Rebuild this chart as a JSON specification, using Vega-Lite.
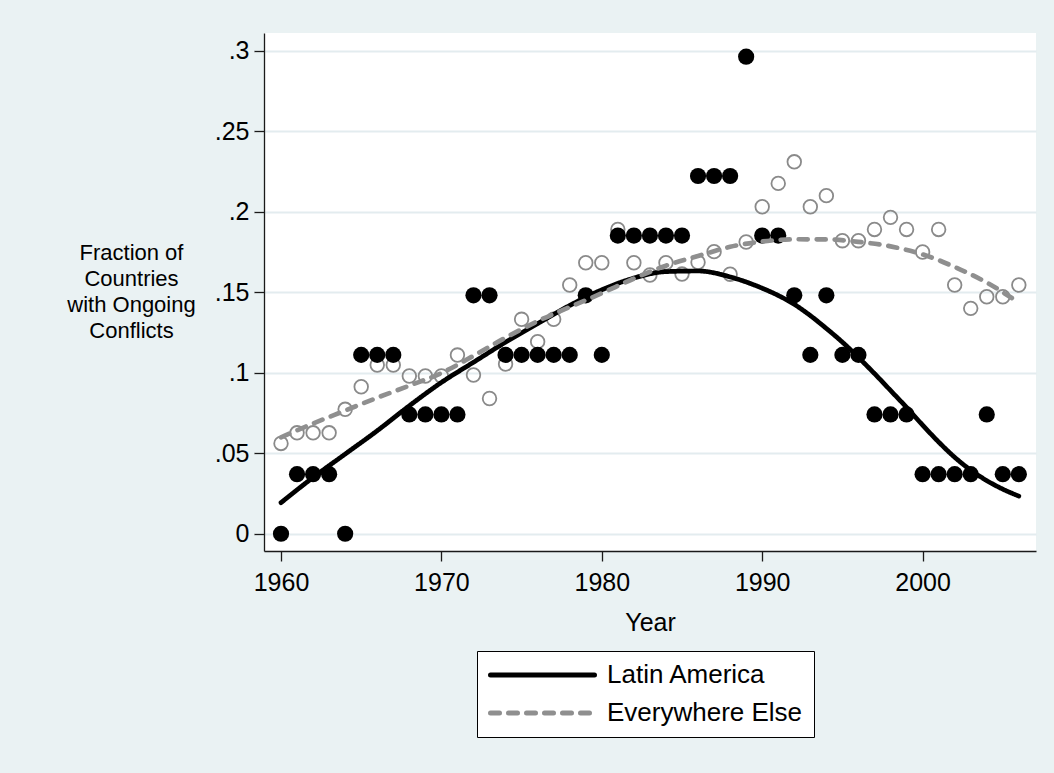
{
  "$schema": "https://vega.github.io/schema/vega-lite/v6.json",
  "width": 772,
  "height": 518,
  "autosize": {"type": "none"},
  "padding": {"left": 264, "top": 33, "right": 18, "bottom": 222},
  "background": "#EAF2F3",
  "config": {
    "view": {"fill": "white", "stroke": null},
    "font": "Liberation Sans",
    "axis": {
      "labelFont": "Liberation Sans",
      "titleFont": "Liberation Sans",
      "labelColor": "black",
      "titleColor": "black",
      "titleFontWeight": "normal",
      "domainColor": "#1a1a1a",
      "domainWidth": 1.3,
      "tickColor": "#1a1a1a",
      "tickWidth": 1.3,
      "tickSize": 10
    }
  },
  "datasets": {
    "points": [
      {"year": 1960, "value": 0, "group": "Latin America"},
      {"year": 1961, "value": 0.037, "group": "Latin America"},
      {"year": 1962, "value": 0.037, "group": "Latin America"},
      {"year": 1963, "value": 0.037, "group": "Latin America"},
      {"year": 1964, "value": 0, "group": "Latin America"},
      {"year": 1965, "value": 0.1111, "group": "Latin America"},
      {"year": 1966, "value": 0.1111, "group": "Latin America"},
      {"year": 1967, "value": 0.1111, "group": "Latin America"},
      {"year": 1968, "value": 0.0741, "group": "Latin America"},
      {"year": 1969, "value": 0.0741, "group": "Latin America"},
      {"year": 1970, "value": 0.0741, "group": "Latin America"},
      {"year": 1971, "value": 0.0741, "group": "Latin America"},
      {"year": 1972, "value": 0.1481, "group": "Latin America"},
      {"year": 1973, "value": 0.1481, "group": "Latin America"},
      {"year": 1974, "value": 0.1111, "group": "Latin America"},
      {"year": 1975, "value": 0.1111, "group": "Latin America"},
      {"year": 1976, "value": 0.1111, "group": "Latin America"},
      {"year": 1977, "value": 0.1111, "group": "Latin America"},
      {"year": 1978, "value": 0.1111, "group": "Latin America"},
      {"year": 1979, "value": 0.1481, "group": "Latin America"},
      {"year": 1980, "value": 0.1111, "group": "Latin America"},
      {"year": 1981, "value": 0.1852, "group": "Latin America"},
      {"year": 1982, "value": 0.1852, "group": "Latin America"},
      {"year": 1983, "value": 0.1852, "group": "Latin America"},
      {"year": 1984, "value": 0.1852, "group": "Latin America"},
      {"year": 1985, "value": 0.1852, "group": "Latin America"},
      {"year": 1986, "value": 0.2222, "group": "Latin America"},
      {"year": 1987, "value": 0.2222, "group": "Latin America"},
      {"year": 1988, "value": 0.2222, "group": "Latin America"},
      {"year": 1989, "value": 0.2963, "group": "Latin America"},
      {"year": 1990, "value": 0.1852, "group": "Latin America"},
      {"year": 1991, "value": 0.1852, "group": "Latin America"},
      {"year": 1992, "value": 0.1481, "group": "Latin America"},
      {"year": 1993, "value": 0.1111, "group": "Latin America"},
      {"year": 1994, "value": 0.1481, "group": "Latin America"},
      {"year": 1995, "value": 0.1111, "group": "Latin America"},
      {"year": 1996, "value": 0.1111, "group": "Latin America"},
      {"year": 1997, "value": 0.0741, "group": "Latin America"},
      {"year": 1998, "value": 0.0741, "group": "Latin America"},
      {"year": 1999, "value": 0.0741, "group": "Latin America"},
      {"year": 2000, "value": 0.037, "group": "Latin America"},
      {"year": 2001, "value": 0.037, "group": "Latin America"},
      {"year": 2002, "value": 0.037, "group": "Latin America"},
      {"year": 2003, "value": 0.037, "group": "Latin America"},
      {"year": 2004, "value": 0.0741, "group": "Latin America"},
      {"year": 2005, "value": 0.037, "group": "Latin America"},
      {"year": 2006, "value": 0.037, "group": "Latin America"},
      {"year": 1960, "value": 0.0561, "group": "Everywhere Else"},
      {"year": 1961, "value": 0.0627, "group": "Everywhere Else"},
      {"year": 1962, "value": 0.0627, "group": "Everywhere Else"},
      {"year": 1963, "value": 0.0627, "group": "Everywhere Else"},
      {"year": 1964, "value": 0.0773, "group": "Everywhere Else"},
      {"year": 1965, "value": 0.0913, "group": "Everywhere Else"},
      {"year": 1966, "value": 0.1048, "group": "Everywhere Else"},
      {"year": 1967, "value": 0.1048, "group": "Everywhere Else"},
      {"year": 1968, "value": 0.098, "group": "Everywhere Else"},
      {"year": 1969, "value": 0.098, "group": "Everywhere Else"},
      {"year": 1970, "value": 0.098, "group": "Everywhere Else"},
      {"year": 1971, "value": 0.111, "group": "Everywhere Else"},
      {"year": 1972, "value": 0.0986, "group": "Everywhere Else"},
      {"year": 1973, "value": 0.084, "group": "Everywhere Else"},
      {"year": 1974, "value": 0.1054, "group": "Everywhere Else"},
      {"year": 1975, "value": 0.1332, "group": "Everywhere Else"},
      {"year": 1976, "value": 0.1193, "group": "Everywhere Else"},
      {"year": 1977, "value": 0.1332, "group": "Everywhere Else"},
      {"year": 1978, "value": 0.1545, "group": "Everywhere Else"},
      {"year": 1979, "value": 0.1683, "group": "Everywhere Else"},
      {"year": 1980, "value": 0.1683, "group": "Everywhere Else"},
      {"year": 1981, "value": 0.189, "group": "Everywhere Else"},
      {"year": 1982, "value": 0.1683, "group": "Everywhere Else"},
      {"year": 1983, "value": 0.1607, "group": "Everywhere Else"},
      {"year": 1984, "value": 0.1683, "group": "Everywhere Else"},
      {"year": 1985, "value": 0.1613, "group": "Everywhere Else"},
      {"year": 1986, "value": 0.1686, "group": "Everywhere Else"},
      {"year": 1987, "value": 0.1752, "group": "Everywhere Else"},
      {"year": 1988, "value": 0.1612, "group": "Everywhere Else"},
      {"year": 1989, "value": 0.1812, "group": "Everywhere Else"},
      {"year": 1990, "value": 0.2031, "group": "Everywhere Else"},
      {"year": 1991, "value": 0.2176, "group": "Everywhere Else"},
      {"year": 1992, "value": 0.231, "group": "Everywhere Else"},
      {"year": 1993, "value": 0.2031, "group": "Everywhere Else"},
      {"year": 1994, "value": 0.21, "group": "Everywhere Else"},
      {"year": 1995, "value": 0.182, "group": "Everywhere Else"},
      {"year": 1996, "value": 0.182, "group": "Everywhere Else"},
      {"year": 1997, "value": 0.189, "group": "Everywhere Else"},
      {"year": 1998, "value": 0.1965, "group": "Everywhere Else"},
      {"year": 1999, "value": 0.189, "group": "Everywhere Else"},
      {"year": 2000, "value": 0.175, "group": "Everywhere Else"},
      {"year": 2001, "value": 0.189, "group": "Everywhere Else"},
      {"year": 2002, "value": 0.1545, "group": "Everywhere Else"},
      {"year": 2003, "value": 0.14, "group": "Everywhere Else"},
      {"year": 2004, "value": 0.1472, "group": "Everywhere Else"},
      {"year": 2005, "value": 0.1472, "group": "Everywhere Else"},
      {"year": 2006, "value": 0.1545, "group": "Everywhere Else"}
    ],
    "fits": [
      {"year": 1960, "value": 0.0193, "group": "Latin America"},
      {"year": 1962, "value": 0.035, "group": "Latin America"},
      {"year": 1964, "value": 0.0495, "group": "Latin America"},
      {"year": 1966, "value": 0.064, "group": "Latin America"},
      {"year": 1968, "value": 0.0795, "group": "Latin America"},
      {"year": 1970, "value": 0.094, "group": "Latin America"},
      {"year": 1972, "value": 0.1065, "group": "Latin America"},
      {"year": 1974, "value": 0.119, "group": "Latin America"},
      {"year": 1976, "value": 0.1305, "group": "Latin America"},
      {"year": 1978, "value": 0.1418, "group": "Latin America"},
      {"year": 1980, "value": 0.1515, "group": "Latin America"},
      {"year": 1982, "value": 0.1588, "group": "Latin America"},
      {"year": 1984, "value": 0.1628, "group": "Latin America"},
      {"year": 1986, "value": 0.1632, "group": "Latin America"},
      {"year": 1988, "value": 0.1595, "group": "Latin America"},
      {"year": 1990, "value": 0.1525, "group": "Latin America"},
      {"year": 1991, "value": 0.148, "group": "Latin America"},
      {"year": 1992, "value": 0.1425, "group": "Latin America"},
      {"year": 1993, "value": 0.1355, "group": "Latin America"},
      {"year": 1994, "value": 0.1275, "group": "Latin America"},
      {"year": 1995, "value": 0.119, "group": "Latin America"},
      {"year": 1996, "value": 0.1095, "group": "Latin America"},
      {"year": 1997, "value": 0.0995, "group": "Latin America"},
      {"year": 1998, "value": 0.089, "group": "Latin America"},
      {"year": 1999, "value": 0.0785, "group": "Latin America"},
      {"year": 2000, "value": 0.0675, "group": "Latin America"},
      {"year": 2001, "value": 0.057, "group": "Latin America"},
      {"year": 2002, "value": 0.0475, "group": "Latin America"},
      {"year": 2003, "value": 0.0395, "group": "Latin America"},
      {"year": 2004, "value": 0.033, "group": "Latin America"},
      {"year": 2005, "value": 0.0277, "group": "Latin America"},
      {"year": 2006, "value": 0.0234, "group": "Latin America"},
      {"year": 1960, "value": 0.0599, "group": "Everywhere Else"},
      {"year": 1962, "value": 0.0685, "group": "Everywhere Else"},
      {"year": 1964, "value": 0.0765, "group": "Everywhere Else"},
      {"year": 1966, "value": 0.0845, "group": "Everywhere Else"},
      {"year": 1968, "value": 0.092, "group": "Everywhere Else"},
      {"year": 1970, "value": 0.0998, "group": "Everywhere Else"},
      {"year": 1972, "value": 0.1105, "group": "Everywhere Else"},
      {"year": 1974, "value": 0.1218, "group": "Everywhere Else"},
      {"year": 1976, "value": 0.132, "group": "Everywhere Else"},
      {"year": 1978, "value": 0.1408, "group": "Everywhere Else"},
      {"year": 1980, "value": 0.1494, "group": "Everywhere Else"},
      {"year": 1982, "value": 0.1585, "group": "Everywhere Else"},
      {"year": 1984, "value": 0.1665, "group": "Everywhere Else"},
      {"year": 1986, "value": 0.1725, "group": "Everywhere Else"},
      {"year": 1988, "value": 0.1782, "group": "Everywhere Else"},
      {"year": 1990, "value": 0.1815, "group": "Everywhere Else"},
      {"year": 1992, "value": 0.1829, "group": "Everywhere Else"},
      {"year": 1994, "value": 0.1828, "group": "Everywhere Else"},
      {"year": 1996, "value": 0.1813, "group": "Everywhere Else"},
      {"year": 1998, "value": 0.1785, "group": "Everywhere Else"},
      {"year": 2000, "value": 0.1735, "group": "Everywhere Else"},
      {"year": 2002, "value": 0.1657, "group": "Everywhere Else"},
      {"year": 2004, "value": 0.156, "group": "Everywhere Else"},
      {"year": 2006, "value": 0.1435, "group": "Everywhere Else"}
    ]
  },
  "encoding": {
    "x": {
      "field": "year",
      "type": "quantitative",
      "scale": {"domain": [1958.94, 2007.07], "nice": false, "zero": false},
      "axis": {
        "values": [1960, 1970, 1980, 1990, 2000],
        "grid": false,
        "format": "d",
        "labelFontSize": 25,
        "labelPadding": 9,
        "title": "Year",
        "titleFontSize": 25,
        "titleBaseline": "alphabetic",
        "titleY": 79
      }
    },
    "y": {
      "field": "value",
      "type": "quantitative",
      "scale": {"domain": [-0.0107, 0.311], "nice": false, "zero": false},
      "axis": {
        "values": [0, 0.05, 0.1, 0.15, 0.2, 0.25, 0.3],
        "grid": true,
        "gridColor": "#E3ECEF",
        "gridWidth": 2,
        "labelExpr": "datum.value == 0 ? '0' : replace(format(datum.value, '.2~f'), '0.', '.')",
        "labelFontSize": 25,
        "labelPadding": 5,
        "title": ["Fraction of", "Countries", "with Ongoing", "Conflicts"],
        "titleFontSize": 22,
        "titleLineHeight": 26.3,
        "titleAngle": 0,
        "titleAlign": "center",
        "titleBaseline": "alphabetic",
        "titleX": -133,
        "titleY": 226
      }
    }
  },
  "layer": [
    {
      "data": {"name": "points"},
      "transform": [{"filter": "datum.group === 'Everywhere Else'"}],
      "mark": {"type": "point", "shape": "circle", "filled": false, "stroke": "#8a8a8a", "strokeWidth": 1.8, "size": 185, "opacity": 1}
    },
    {
      "data": {"name": "points"},
      "transform": [{"filter": "datum.group === 'Latin America'"}],
      "mark": {"type": "circle", "color": "black", "size": 262, "opacity": 1}
    },
    {
      "data": {"name": "fits"},
      "mark": {"type": "line", "strokeWidth": 4.7, "strokeCap": "round", "interpolate": "monotone"},
      "encoding": {
        "color": {
          "field": "group",
          "type": "nominal",
          "scale": {"domain": ["Latin America", "Everywhere Else"], "range": ["black", "#8f8f8f"]},
          "legend": {
            "orient": "none",
            "legendX": 213,
            "legendY": 618,
            "direction": "vertical",
            "title": null,
            "symbolType": "stroke",
            "symbolSize": 10816,
            "symbolStrokeWidth": 5,
            "clipHeight": 26,
            "labelFont": "Liberation Sans",
            "labelFontSize": 26,
            "labelColor": "black",
            "labelOffset": 10,
            "labelLimit": 400,
            "rowPadding": 12,
            "padding": 11,
            "strokeColor": "black",
            "fillColor": "white",
            "encode": {"symbols": {"update": {"strokeCap": {"value": "round"}}}}
          }
        },
        "strokeDash": {
          "field": "group",
          "type": "nominal",
          "scale": {"domain": ["Latin America", "Everywhere Else"], "range": [[1, 0], [9, 9]]},
          "legend": {
            "orient": "none",
            "legendX": 213,
            "legendY": 618,
            "direction": "vertical",
            "title": null,
            "symbolType": "stroke",
            "symbolSize": 10816,
            "symbolStrokeWidth": 5,
            "clipHeight": 26,
            "labelFont": "Liberation Sans",
            "labelFontSize": 26,
            "labelColor": "black",
            "labelOffset": 10,
            "labelLimit": 400,
            "rowPadding": 12,
            "padding": 11,
            "strokeColor": "black",
            "fillColor": "white",
            "encode": {"symbols": {"update": {"strokeCap": {"value": "round"}}}}
          }
        }
      }
    }
  ]
}
